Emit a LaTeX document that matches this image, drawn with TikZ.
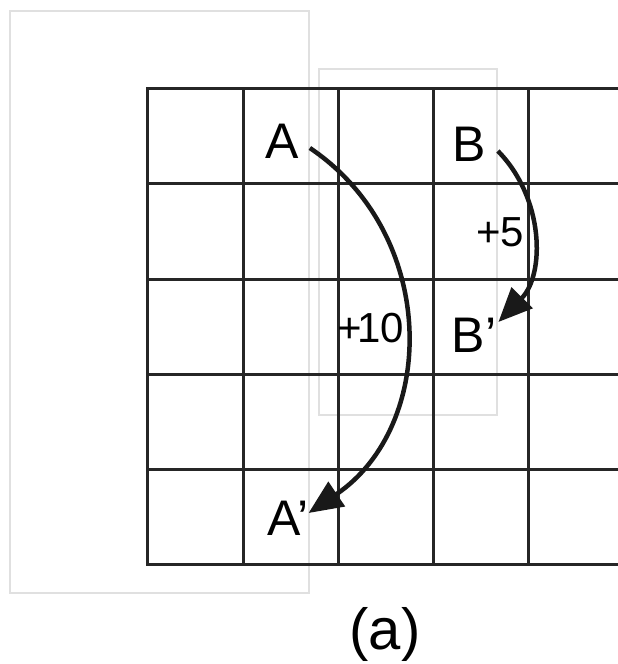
\documentclass[tikz,border=0pt]{standalone}
\usepackage{fontspec}
\setmainfont{Liberation Sans}
\usetikzlibrary{arrows.meta,calc}
\begin{document}
\begin{tikzpicture}[x=1pt,y=-1pt,
  gridline/.style={line width=3pt,draw=black!85,line cap=rect},
  faint/.style={line width=1.1pt,draw=black!12},
  letter/.style={inner sep=0pt,font=\fontsize{50}{60}\selectfont},
  steplabel/.style={inner sep=0pt,font=\fontsize{42}{50}\selectfont},
  caption/.style={inner sep=0pt,font=\fontsize{58}{70}\selectfont},
  move/.style={line width=4.5pt,draw=black!90,-{Triangle[length=34pt,width=29pt]}}]
\useasboundingbox (0,0) rectangle (618,664);
% faint frames
\draw[faint] (10,11) rectangle (309,593);
\draw[faint] (319,69) rectangle (497,415);
% grid
\foreach \x in {147,243,338,433,528} \draw[gridline] (\x,88) -- (\x,564);
\foreach \y in {88,183,279,374,469,564} \draw[gridline] (147,\y) -- (625,\y);
% letters
\node[letter] (A) at (282,141) {A};
\node[letter] (A2) at (288,518) {A’};
\node[letter] (B) at (469,144) {B};
\node[letter] (B2) at (474,335) {B’};
\node[steplabel] (p10) at (371,328) {+\kern-5pt10};
\node[steplabel] (p5) at (500,232) {+5};
\node[caption] (cap) at (385,634) {(a)};
% arrows
\draw[move] ($(A.east)+(11,7)$) .. controls +(129,87) and +(129,-87) .. ($(A2.east)+(0,-5)$);
\draw[move] ($(B.east)+(12,7)$) .. controls +(46.6,47.4) and +(46.6,-47.6) .. ($(B2.east)+(2,-13)$);
\end{tikzpicture}
\end{document}
